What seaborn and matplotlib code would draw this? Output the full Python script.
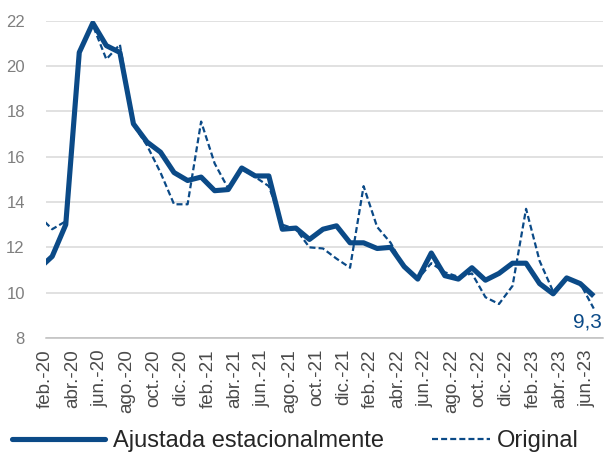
import numpy as np
import pandas as pd
import matplotlib
matplotlib.use("Agg")
import matplotlib.pyplot as plt
from matplotlib.lines import Line2D
import seaborn as sns

# ---- data (monthly, ene.-20 .. jun.-23) ----
months = ["ene.-20", "feb.-20", "mar.-20", "abr.-20", "may.-20", "jun.-20", "jul.-20", "ago.-20",
          "sep.-20", "oct.-20", "nov.-20", "dic.-20",
          "ene.-21", "feb.-21", "mar.-21", "abr.-21", "may.-21", "jun.-21", "jul.-21", "ago.-21",
          "sep.-21", "oct.-21", "nov.-21", "dic.-21",
          "ene.-22", "feb.-22", "mar.-22", "abr.-22", "may.-22", "jun.-22", "jul.-22", "ago.-22",
          "sep.-22", "oct.-22", "nov.-22", "dic.-22",
          "ene.-23", "feb.-23", "mar.-23", "abr.-23", "may.-23", "jun.-23"]
ajustada = [11.05, 11.6, 13.0, 20.6, 21.9, 20.9, 20.6, 17.45, 16.65, 16.2, 15.3, 14.95,
            15.1, 14.5, 14.55, 15.5, 15.15, 15.15, 12.8, 12.85, 12.35, 12.8, 12.95, 12.2,
            12.2, 11.95, 12.0, 11.15, 10.6, 11.75, 10.75, 10.6, 11.1, 10.55, 10.85, 11.3,
            11.3, 10.4, 9.95, 10.65, 10.4, 9.85]
original = [13.4, 12.8, 13.15, 20.6, 21.8, 20.3, 20.95, 17.4, 16.5, 15.3, 13.9, 13.9,
            17.55, 15.7, 14.6, 15.45, 15.1, 14.7, 13.0, 12.8, 12.0, 11.95, 11.5, 11.1,
            14.7, 12.9, 12.2, 11.1, 10.6, 11.3, 10.9, 10.7, 10.85, 9.8, 9.5, 10.3,
            13.7, 11.4, 10.05, 10.65, 10.4, 9.3]
tick_labels = ["feb.-20", "abr.-20", "jun.-20", "ago.-20", "oct.-20", "dic.-20",
               "feb.-21", "abr.-21", "jun.-21", "ago.-21", "oct.-21", "dic.-21",
               "feb.-22", "abr.-22", "jun.-22", "ago.-22", "oct.-22", "dic.-22",
               "feb.-23", "abr.-23", "jun.-23"]
last_label = "9,3"

sns.set_style("white")
plt.rcParams["font.family"] = ["Liberation Sans", "DejaVu Sans"]

BLUE = "#0b4a87"
DASH = (0, (2.7, 1.4))

# months measured from 1 Feb 2020, points at mid-month
pos = np.arange(len(months)) - 1 + 0.48
df = pd.DataFrame({"pos": pos, "Ajustada": ajustada, "Original": original})

fig = plt.figure(figsize=(6.06, 4.54), dpi=100)
ax = fig.add_axes([0.0754, 0.2555, 0.9196, 0.6989])

sns.lineplot(data=df, x="pos", y="Original", ax=ax, color=BLUE, linewidth=1.6,
             linestyle=DASH, zorder=3)
sns.lineplot(data=df, x="pos", y="Ajustada", ax=ax, color=BLUE, linewidth=3.7,
             solid_joinstyle="round", solid_capstyle="butt", zorder=4)

ax.set_xlim(0, 41.16)
ax.set_ylim(8, 22)
ax.set_yticks(np.arange(8, 23, 2))
ax.yaxis.grid(True, color="#d9d9d9", linewidth=1.1)
ax.xaxis.grid(False)
ax.set_xticks(np.arange(0, 41, 2))
ax.set_xticklabels(tick_labels, rotation=90)
ax.set_xlabel("")
ax.set_ylabel("")
for s in ["top", "right", "left"]:
    ax.spines[s].set_visible(False)
ax.spines["bottom"].set_color("#bfbfbf")
ax.spines["bottom"].set_linewidth(1.1)
ax.tick_params(axis="y", length=0, labelsize=12, labelcolor="#7f7f7f", pad=15)
ax.tick_params(axis="x", direction="out", length=4, width=1, color="#bfbfbf",
               labelsize=13.5, labelcolor="#4a4a4a", pad=4)

ax.annotate(last_label, xy=(pos[-1], original[-1]), xytext=(6, -3),
            textcoords="offset points", ha="right", va="top",
            fontsize=15, color=BLUE)

h1 = Line2D([], [], color=BLUE, linewidth=3.7)
h2 = Line2D([], [], color=BLUE, linewidth=1.6, linestyle=DASH)
fig.legend([h1], ["Ajustada estacionalmente"], loc="center left",
           bbox_to_anchor=(12 / 606, 0.028), frameon=False, fontsize=17,
           handlelength=3.94, handletextpad=0.34, borderpad=0, borderaxespad=0,
           labelcolor="#262626")
fig.legend([h2], ["Original"], loc="center left",
           bbox_to_anchor=(432 / 606, 0.028), frameon=False, fontsize=17,
           handlelength=2.46, handletextpad=0.3, borderpad=0, borderaxespad=0,
           labelcolor="#262626")

fig.savefig("out.png", dpi=100)
